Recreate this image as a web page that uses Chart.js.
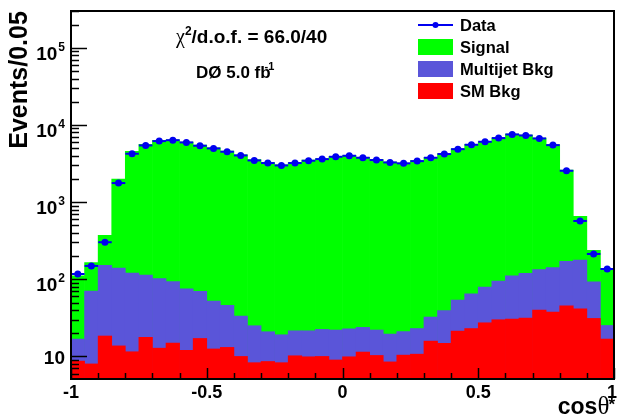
<!DOCTYPE html>
<html>
<head>
<meta charset="utf-8">
<script src="https://cdn.jsdelivr.net/npm/chart.js@4.4.0/dist/chart.umd.min.js"></script>
<style>
  html, body { margin: 0; padding: 0; background: #fff; }
  #wrap { width: 621px; height: 418px; }
</style>
</head>
<body>
<div id="wrap"><canvas id="chart"></canvas></div>
<script>
// cos(theta*) bins, width 0.05
const binCenters = [
  -0.975, -0.925, -0.875, -0.825, -0.775, -0.725, -0.675, -0.625, -0.575, -0.525,
  -0.475, -0.425, -0.375, -0.325, -0.275, -0.225, -0.175, -0.125, -0.075, -0.025,
   0.025,  0.075,  0.125,  0.175,  0.225,  0.275,  0.325,  0.375,  0.425,  0.475,
   0.525,  0.575,  0.625,  0.675,  0.725,  0.775,  0.825,  0.875,  0.925,  0.975
];
const binWidth = 0.05;

const dataCounts = [
  117, 149, 302, 1766, 4240, 5430, 6180, 6350, 5940, 5380,
  4970, 4500, 4030, 3470, 3210, 2990, 3210, 3440, 3610, 3870,
  3990, 3760, 3510, 3270, 3180, 3400, 3760, 4200, 4860, 5540,
  6060, 6760, 7540, 7310, 6690, 5480, 2550, 570, 213, 136
];
const signal = [
  94, 95, 220, 1850, 4420, 5487, 6198, 6306, 5925, 5430,
  4998, 4554, 4067, 3525, 3229, 3031, 3228, 3478, 3628, 3878,
  3977, 3776, 3528, 3280, 3179, 3427, 3768, 4211, 4846, 5535,
  6021, 6705, 7489, 7281, 6616, 5408, 2429, 478, 145, 113
];
const multijetBkg = [
  8.1, 62.2, 133.6, 126.3, 108.5, 95.3, 89.2, 78.6, 63.0, 52.9,
  39.5, 32.7, 23.3, 16.7, 12.3, 10.8, 11.3, 11.6, 12.4, 13.0,
  12.9, 12.4, 11.7, 11.0, 10.6, 12.3, 16.6, 24.6, 32.4, 41.7,
  51.7, 64.6, 80.5, 87.6, 94.2, 104.5, 125.7, 135.6, 61.5, 8.4
];
const smBkg = [
  8.7, 8.0, 18.4, 13.7, 11.5, 17.7, 12.8, 14.9, 12.0, 17.1,
  12.5, 13.1, 10.0, 8.3, 8.6, 8.3, 10.2, 9.9, 10.0, 9.0,
  9.9, 11.4, 10.3, 8.5, 10.4, 10.7, 15.8, 14.8, 21.3, 23.0,
  27.3, 29.9, 30.5, 31.4, 39.8, 37.5, 45.3, 41.4, 31.1, 16.8
];

const xMajorTicks = [-1, -0.5, 0, 0.5, 1];
const xTickLabels = ['-1', '-0.5', '0', '0.5', '1'];
const xMinorTicks = [-0.9, -0.8, -0.7, -0.6, -0.4, -0.3, -0.2, -0.1, 0.1, 0.2, 0.3, 0.4, 0.6, 0.7, 0.8, 0.9];
const yDecades = [10, 100, 1000, 10000, 100000];
const yTickExponents = ['', '2', '3', '4', '5'];

const colors = { data: '#0000f0', signal: '#00ff00', multijet: '#5a55d9', sm: '#ff0000' };
const FONT = '"Liberation Sans", Arial, sans-serif';
const SERIF = '"Liberation Serif", "Times New Roman", serif';

// stacked tops, drawn as overlapping bars
const mjTop = smBkg.map((v, i) => v + multijetBkg[i]);
const sigTop = mjTop.map((v, i) => v + signal[i]);
const pts = arr => binCenters.map((x, i) => ({ x, y: arr[i] }));

function textW(ctx, font, s) { ctx.font = font; return ctx.measureText(s).width; }

const rootStyle = {
  id: 'rootStyle',
  beforeDatasetDraw(chart, args) {
    if (args.index !== 0) return;
    const { ctx, scales: { x, y } } = chart;
    ctx.save();
    ctx.strokeStyle = colors.data;
    ctx.lineWidth = 2;
    binCenters.forEach((c, i) => {
      const py = y.getPixelForValue(dataCounts[i]);
      ctx.beginPath();
      ctx.moveTo(x.getPixelForValue(c - binWidth / 2), py);
      ctx.lineTo(x.getPixelForValue(c + binWidth / 2), py);
      ctx.stroke();
    });
    ctx.restore();
  },
  afterDraw(chart) {
    const { ctx, chartArea: a, scales: { x, y } } = chart;
    ctx.save();
    ctx.strokeStyle = '#000';
    ctx.fillStyle = '#000';

    // frame
    ctx.lineWidth = 2;
    ctx.strokeRect(a.left, a.top, a.right - a.left, a.bottom - a.top);

    // y ticks (log, major + minor), pointing into the plot
    ctx.lineWidth = 1.5;
    for (let p = 0; p <= 5; p++) {
      for (let k = 1; k <= 9; k++) {
        const v = k * Math.pow(10, p);
        if (v < y.min || v > y.max) continue;
        const py = Math.round(y.getPixelForValue(v)) + 0.5;
        const len = k === 1 ? 16 : 8;
        ctx.beginPath();
        ctx.moveTo(a.left, py);
        ctx.lineTo(a.left + len, py);
        ctx.stroke();
      }
    }
    // x ticks
    xMajorTicks.concat(xMinorTicks).forEach(v => {
      const px = Math.round(x.getPixelForValue(v)) + 0.5;
      const len = xMajorTicks.includes(v) ? 11 : 6;
      ctx.beginPath();
      ctx.moveTo(px, a.bottom);
      ctx.lineTo(px, a.bottom - len);
      ctx.stroke();
    });

    // y tick labels 10^n
    const baseFont = `bold 19px ${FONT}`;
    const supFont = `bold 12px ${FONT}`;
    yDecades.forEach((v, i) => {
      const py = y.getPixelForValue(v);
      const exp = yTickExponents[i];
      const we = exp ? textW(ctx, supFont, exp) + 1 : 0;
      const right = 65;
      ctx.textAlign = 'right';
      ctx.font = baseFont;
      ctx.fillText('10', right - we, py + (exp ? 12 : 8));
      if (exp) {
        ctx.font = supFont;
        ctx.fillText(exp, right, py + 3);
      }
    });

    // x tick labels
    ctx.font = `bold 18px ${FONT}`;
    ctx.textAlign = 'center';
    xMajorTicks.forEach((v, i) => {
      let px = x.getPixelForValue(v);
      if (v === 1) px -= 2;
      ctx.fillText(xTickLabels[i], px, 398);
    });

    // axis titles
    ctx.save();
    ctx.translate(27, 80);
    ctx.rotate(-Math.PI / 2);
    ctx.textAlign = 'center';
    ctx.font = `bold 25px ${FONT}`;
    ctx.fillText('Events/0.05', 0, 0);
    ctx.restore();

    ctx.textAlign = 'left';
    const tCos = 'cos', tTh = '\u03B8';
    const fCos = `bold 23px ${FONT}`, fTh = `25px ${SERIF}`, fStar = `bold 17px ${FONT}`;
    const wTotal = textW(ctx, fCos, tCos) + textW(ctx, fTh, tTh) + textW(ctx, fStar, '*');
    let cx = 616 - wTotal;
    ctx.font = fCos; ctx.fillText(tCos, cx, 414); cx += textW(ctx, fCos, tCos);
    ctx.font = fTh; ctx.fillText(tTh, cx, 414); cx += textW(ctx, fTh, tTh);
    ctx.font = fStar; ctx.fillText('*', cx - 1, 410);

    // annotations
    let tx = 176;
    ctx.font = `20px ${SERIF}`;
    ctx.fillText('\u03C7', tx, 43); tx += textW(ctx, `20px ${SERIF}`, '\u03C7');
    ctx.font = `bold 12px ${FONT}`;
    ctx.fillText('2', tx, 35); tx += textW(ctx, `bold 12px ${FONT}`, '2');
    ctx.font = `bold 19px ${FONT}`;
    ctx.fillText('/d.o.f. = 66.0/40', tx, 43);

    tx = 196;
    ctx.font = `bold 17px ${FONT}`;
    ctx.fillText('D\u00D8 5.0 fb', tx, 78); tx += textW(ctx, `bold 17px ${FONT}`, 'D\u00D8 5.0 fb');
    ctx.font = `bold 11px ${FONT}`;
    ctx.fillText('-1', tx - 6, 70);

    // legend
    const legX = 418, legW = 35, legTextX = 460;
    const legFont = `bold 16.5px ${FONT}`;
    ctx.font = legFont;
    ctx.strokeStyle = colors.data;
    ctx.lineWidth = 2;
    ctx.beginPath(); ctx.moveTo(legX, 25); ctx.lineTo(legX + legW, 25); ctx.stroke();
    ctx.fillStyle = colors.data;
    ctx.beginPath(); ctx.arc(legX + legW / 2, 25, 3, 0, Math.PI * 2); ctx.fill();
    const boxes = [['Signal', colors.signal, 47], ['Multijet Bkg', colors.multijet, 69], ['SM Bkg', colors.sm, 91]];
    boxes.forEach(([label, col, cy]) => {
      ctx.fillStyle = col;
      ctx.fillRect(legX, cy - 8, legW, 16);
    });
    ctx.fillStyle = '#000';
    ctx.fillText('Data', legTextX, 31);
    boxes.forEach(([label, , cy]) => ctx.fillText(label, legTextX, cy + 6));

    ctx.restore();
  }
};

new Chart(document.getElementById('chart'), {
  type: 'bar',
  data: {
    datasets: [
      {
        type: 'line', label: 'Data', data: pts(dataCounts), order: 0,
        showLine: false, pointRadius: 3.5, pointBorderWidth: 0,
        pointBackgroundColor: colors.data, borderColor: colors.data
      },
      { label: 'SM Bkg', data: pts(smBkg), backgroundColor: colors.sm, order: 1 },
      { label: 'Multijet Bkg', data: pts(mjTop), backgroundColor: colors.multijet, order: 2 },
      { label: 'Signal', data: pts(sigTop), backgroundColor: colors.signal, order: 3 }
    ]
  },
  options: {
    responsive: true,
    maintainAspectRatio: false,
    animation: false,
    events: [],
    layout: { padding: { top: 11, right: 7, left: 0, bottom: 0 } },
    datasets: {
      bar: { barPercentage: 1, categoryPercentage: 1, borderWidth: 0 }
    },
    plugins: { legend: { display: false }, tooltip: { enabled: false } },
    scales: {
      x: {
        type: 'linear', min: -1, max: 1, stacked: true, offset: false,
        grid: { display: false, drawTicks: false }, border: { display: false },
        ticks: { display: false },
        afterFit: s => { s.height = 39; }
      },
      y: {
        type: 'logarithmic', min: 5.1, max: 3e5, stacked: false,
        grid: { display: false, drawTicks: false }, border: { display: false },
        ticks: { display: false },
        afterFit: s => { s.width = 71; }
      }
    }
  },
  plugins: [rootStyle]
});
</script>
</body>
</html>
